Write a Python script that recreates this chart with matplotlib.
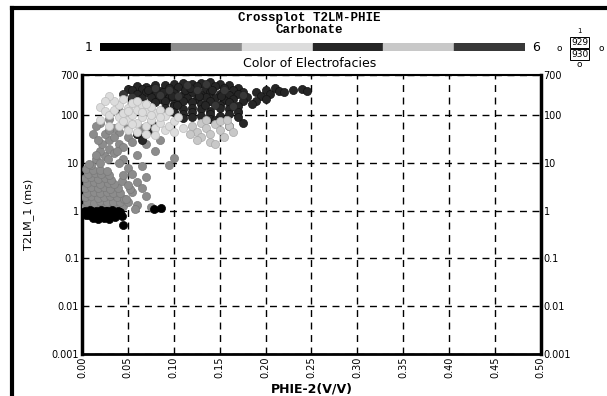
import matplotlib
matplotlib.use("Agg")
import matplotlib.pyplot as plt
from matplotlib.lines import Line2D
from matplotlib.patches import Rectangle

# facies colours (1..6)
facies_colors = ["#000000", "#8c8c8c", "#dcdcdc", "#262626", "#c8c8c8", "#383838"]

# facies 1 - black, low T2
f1_x = [0.002, 0.006, 0.010, 0.014, 0.018, 0.022, 0.026, 0.030, 0.034, 0.038, 0.042,
        0.004, 0.008, 0.012, 0.016, 0.020, 0.024, 0.028, 0.032, 0.036, 0.040,
        0.003, 0.009, 0.015, 0.021, 0.027, 0.033, 0.039, 0.012, 0.024, 0.036, 0.044,
        0.078, 0.086, 0.045, 0.018, 0.030]
f1_y = [0.95, 0.92, 0.97, 0.90, 0.95, 0.93, 0.98, 0.92, 0.95, 0.90, 0.93,
        0.82, 0.80, 0.85, 0.78, 0.83, 0.80, 0.86, 0.80, 0.84, 0.85,
        1.00, 1.02, 1.00, 1.03, 1.00, 1.02, 1.00, 0.72, 0.70, 0.75, 0.78,
        1.08, 1.12, 0.50, 0.66, 0.68]

# facies 2 - gray
f2_x = [0.003, 0.010, 0.017, 0.024, 0.031, 0.038, 0.045,
        0.006, 0.013, 0.020, 0.027, 0.034, 0.041,
        0.003, 0.010, 0.017, 0.024, 0.031, 0.038, 0.046,
        0.006, 0.013, 0.020, 0.027, 0.034, 0.042,
        0.003, 0.010, 0.017, 0.024, 0.031, 0.039,
        0.006, 0.013, 0.020, 0.028, 0.035,
        0.003, 0.010, 0.017, 0.025, 0.032,
        0.007, 0.014, 0.021, 0.029,
        0.004, 0.012, 0.020, 0.027,
        0.010, 0.015, 0.020, 0.025, 0.020, 0.030, 0.035, 0.040, 0.030, 0.045,
        0.050, 0.025, 0.040, 0.055, 0.060, 0.035, 0.050, 0.065, 0.070, 0.060,
        0.045, 0.050, 0.055, 0.060, 0.065, 0.070, 0.055, 0.050, 0.060, 0.075,
        0.070, 0.065, 0.080, 0.085, 0.075, 0.020, 0.030, 0.015, 0.100, 0.095,
        0.048, 0.052, 0.058, 0.044, 0.008, 0.015, 0.022, 0.035, 0.012, 0.028,
        0.040, 0.045, 0.050, 0.018, 0.030, 0.038,
        0.100, 0.120, 0.140, 0.160, 0.130, 0.090, 0.170]
f2_y = [1.2, 1.25, 1.15, 1.2, 1.3, 1.2, 1.25,
        1.5, 1.45, 1.6, 1.5, 1.55, 1.5,
        1.9, 2.0, 1.85, 1.95, 2.0, 1.9, 1.8,
        2.4, 2.5, 2.35, 2.5, 2.4, 2.3,
        3.0, 3.1, 3.0, 3.2, 2.9, 3.0,
        3.8, 4.0, 3.7, 3.9, 3.6,
        4.8, 5.0, 4.7, 4.9, 4.5,
        6.0, 6.2, 5.8, 5.5,
        7.5, 7.2, 7.0, 6.8,
        9.0, 12.0, 10.0, 14.0, 18.0, 20.0, 16.0, 25.0, 30.0, 22.0,
        35.0, 40.0, 45.0, 28.0, 40.0, 55.0, 60.0, 55.0, 25.0, 15.0,
        12.0, 8.0, 6.0, 4.0, 3.0, 2.0, 2.5, 1.5, 1.3, 1.2,
        5.0, 8.5, 18.0, 30.0, 70.0, 70.0, 85.0, 60.0, 13.0, 9.0,
        1.8, 2.8, 1.1, 4.2, 9.5, 15.0, 25.0, 35.0, 40.0, 12.0,
        10.0, 5.5, 3.4, 30.0, 50.0, 18.0,
        300.0, 250.0, 200.0, 150.0, 380.0, 180.0, 120.0]

# facies 3 - light gray
f3_x = [0.020, 0.025, 0.030, 0.035, 0.040, 0.045, 0.050, 0.055, 0.060, 0.065,
        0.070, 0.075, 0.080, 0.085, 0.090, 0.095, 0.100, 0.040, 0.050, 0.060,
        0.070, 0.080, 0.035, 0.045, 0.055, 0.065, 0.075, 0.085, 0.090, 0.100,
        0.030, 0.025, 0.050, 0.060, 0.070, 0.080, 0.110, 0.105, 0.095, 0.040,
        0.030, 0.020, 0.045, 0.055, 0.065, 0.075, 0.085, 0.060, 0.070, 0.050]
f3_y = [150, 120, 100, 130, 90, 110, 80, 100, 70, 90,
        60, 80, 55, 70, 50, 60, 45, 160, 140, 130,
        120, 110, 200, 220, 180, 160, 150, 130, 95, 75,
        250, 200, 50, 45, 40, 38, 55, 90, 120, 60,
        60, 80, 75, 65, 115, 100, 90, 200, 170, 120]

# facies 5 - light gray, second cluster
f5_x = [0.120, 0.125, 0.130, 0.130, 0.135, 0.140, 0.140, 0.145, 0.150, 0.155,
        0.160, 0.150, 0.125, 0.165, 0.135, 0.145, 0.118, 0.158]
f5_y = [60, 45, 70, 35, 55, 40, 28, 65, 50, 35,
        60, 75, 30, 45, 80, 25, 40, 80]

# facies 4 - dark, high T2
f4_x = [0.050, 0.060, 0.070, 0.080, 0.090, 0.100, 0.110, 0.120, 0.130, 0.140,
        0.150, 0.160, 0.170, 0.055, 0.065, 0.075, 0.085, 0.095, 0.105, 0.115,
        0.125, 0.135, 0.145, 0.155, 0.165, 0.175, 0.060, 0.070, 0.080, 0.090,
        0.100, 0.110, 0.120, 0.130, 0.140, 0.150, 0.160, 0.170, 0.180, 0.065,
        0.075, 0.085, 0.095, 0.105, 0.115, 0.125, 0.135, 0.145, 0.155, 0.165,
        0.175, 0.080, 0.090, 0.100, 0.110, 0.120, 0.130, 0.140, 0.150, 0.160,
        0.170, 0.090, 0.100, 0.110, 0.120, 0.130, 0.140, 0.150, 0.160, 0.170,
        0.100, 0.110, 0.120, 0.130, 0.140, 0.150, 0.160, 0.110, 0.120, 0.140,
        0.190, 0.195, 0.200, 0.205, 0.210, 0.215, 0.220, 0.230, 0.240, 0.245,
        0.190, 0.200, 0.185, 0.145, 0.160, 0.170, 0.175, 0.060, 0.075, 0.065,
        0.072, 0.088, 0.098, 0.112, 0.128, 0.142, 0.152, 0.118, 0.134, 0.104]
f4_y = [360, 400, 390, 430, 420, 460, 480, 450, 470, 500,
        460, 420, 370, 330, 350, 360, 320, 370, 390, 350,
        400, 350, 410, 370, 330, 310, 280, 300, 260, 280,
        290, 270, 310, 260, 300, 280, 270, 280, 240, 230,
        240, 220, 240, 210, 230, 220, 240, 230, 210, 220,
        200, 185, 195, 175, 195, 185, 175, 195, 165, 185,
        155, 145, 155, 135, 145, 135, 125, 145, 135, 115,
        115, 105, 115, 98, 105, 98, 105, 88, 92, 82,
        300, 250, 340, 280, 380, 320, 300, 330, 360, 320,
        200, 220, 170, 80, 60, 90, 70, 40, 50, 30,
        330, 310, 250, 330, 250, 340, 250, 380, 165, 165]

# facies 6 - dark, mixed into cluster
f6_x = [0.045, 0.055, 0.080, 0.095, 0.115, 0.135, 0.155, 0.175, 0.105, 0.125,
        0.145, 0.165, 0.085, 0.070, 0.040, 0.080]
f6_y = [280, 240, 380, 330, 420, 440, 330, 270, 250, 330,
        165, 155, 260, 165, 120, 60]

series = [(f1_x, f1_y), (f2_x, f2_y), (f3_x, f3_y), (f4_x, f4_y), (f5_x, f5_y), (f6_x, f6_y)]
draw_order = [1, 3, 5, 2, 4, 0]
edge_colors = ["#000000", "#7a7a7a", "#bdbdbd", "#111111", "#a8a8a8", "#222222"]

y_ticks = [0.001, 0.01, 0.1, 1, 10, 100, 700]
y_labels = ["0.001", "0.01", "0.1", "1", "10", "100", "700"]
x_ticks = [0.00, 0.05, 0.10, 0.15, 0.20, 0.25, 0.30, 0.35, 0.40, 0.45, 0.50]

fig = plt.figure(figsize=(6.07, 3.96), dpi=100)
ax = fig.add_axes([0.135, 0.106, 0.756, 0.705])

for i in draw_order:
    xs, ys = series[i]
    ax.scatter(xs, ys, s=34, c=facies_colors[i], edgecolors=edge_colors[i],
               linewidths=0.5, zorder=3)

ax.set_yscale("log")
ax.set_xlim(0, 0.5)
ax.set_ylim(0.001, 700)
ax.set_yticks(y_ticks)
ax.set_yticklabels(y_labels)
ax.minorticks_off()
ax.set_xticks(x_ticks)
ax.set_xticklabels(["%.2f" % v for v in x_ticks], rotation=90)
ax.tick_params(axis="both", length=0, labelsize=7, pad=2)
ax.tick_params(axis="y", labelright=True, right=False)
ax.grid(True, color="black", linestyle=(0, (5, 4)), linewidth=1.0, zorder=1)
for side, lw in [("left", 2.5), ("bottom", 2.0), ("right", 2.5), ("top", 1.5)]:
    ax.spines[side].set_linewidth(lw)
ax.set_xlabel("PHIE-2(V/V)", fontsize=9, fontweight="bold", labelpad=3)
ax.set_ylabel("T2LM_1 (ms)", fontsize=8)
ax.yaxis.set_label_coords(-0.105, 0.5)

# colour bar of facies
cax = fig.add_axes([0.165, 0.871, 0.70, 0.02])
for k, col in enumerate(facies_colors):
    cax.add_patch(Rectangle((k, 0), 1, 1, color=col))
cax.set_xlim(0, 6)
cax.set_ylim(0, 1)
cax.axis("off")
fig.text(0.153, 0.881, "1", fontsize=9, ha="right", va="center")
fig.text(0.877, 0.881, "6", fontsize=9, ha="left", va="center")

fig.text(0.51, 0.955, "Crossplot T2LM-PHIE", fontsize=9, fontweight="bold",
         family="Liberation Mono", ha="center", va="center")
fig.text(0.51, 0.925, "Carbonate", fontsize=9, fontweight="bold",
         family="Liberation Mono", ha="center", va="center")
fig.text(0.51, 0.84, "Color of Electrofacies", fontsize=9, ha="center", va="center")

# small well symbol at the right
fig.text(0.955, 0.893, "929", fontsize=6.5, ha="center", va="center",
         bbox=dict(boxstyle="square,pad=0.12", fc="white", ec="black", lw=0.7))
fig.text(0.955, 0.862, "930", fontsize=6.5, ha="center", va="center",
         bbox=dict(boxstyle="square,pad=0.12", fc="white", ec="black", lw=0.7))
fig.text(0.955, 0.922, "1", fontsize=5, ha="center", va="center")
fig.text(0.921, 0.877, "o", fontsize=6.5, ha="center", va="center")
fig.text(0.99, 0.877, "o", fontsize=6.5, ha="center", va="center")
fig.text(0.955, 0.836, "o", fontsize=6.5, ha="center", va="center")

# outer frame
fig.add_artist(Line2D([0.02, 0.02], [0.0, 0.98], color="black", lw=3, transform=fig.transFigure))
fig.add_artist(Line2D([0.02, 1.0], [0.98, 0.98], color="black", lw=3, transform=fig.transFigure))

fig.savefig("out.png", dpi=100)
